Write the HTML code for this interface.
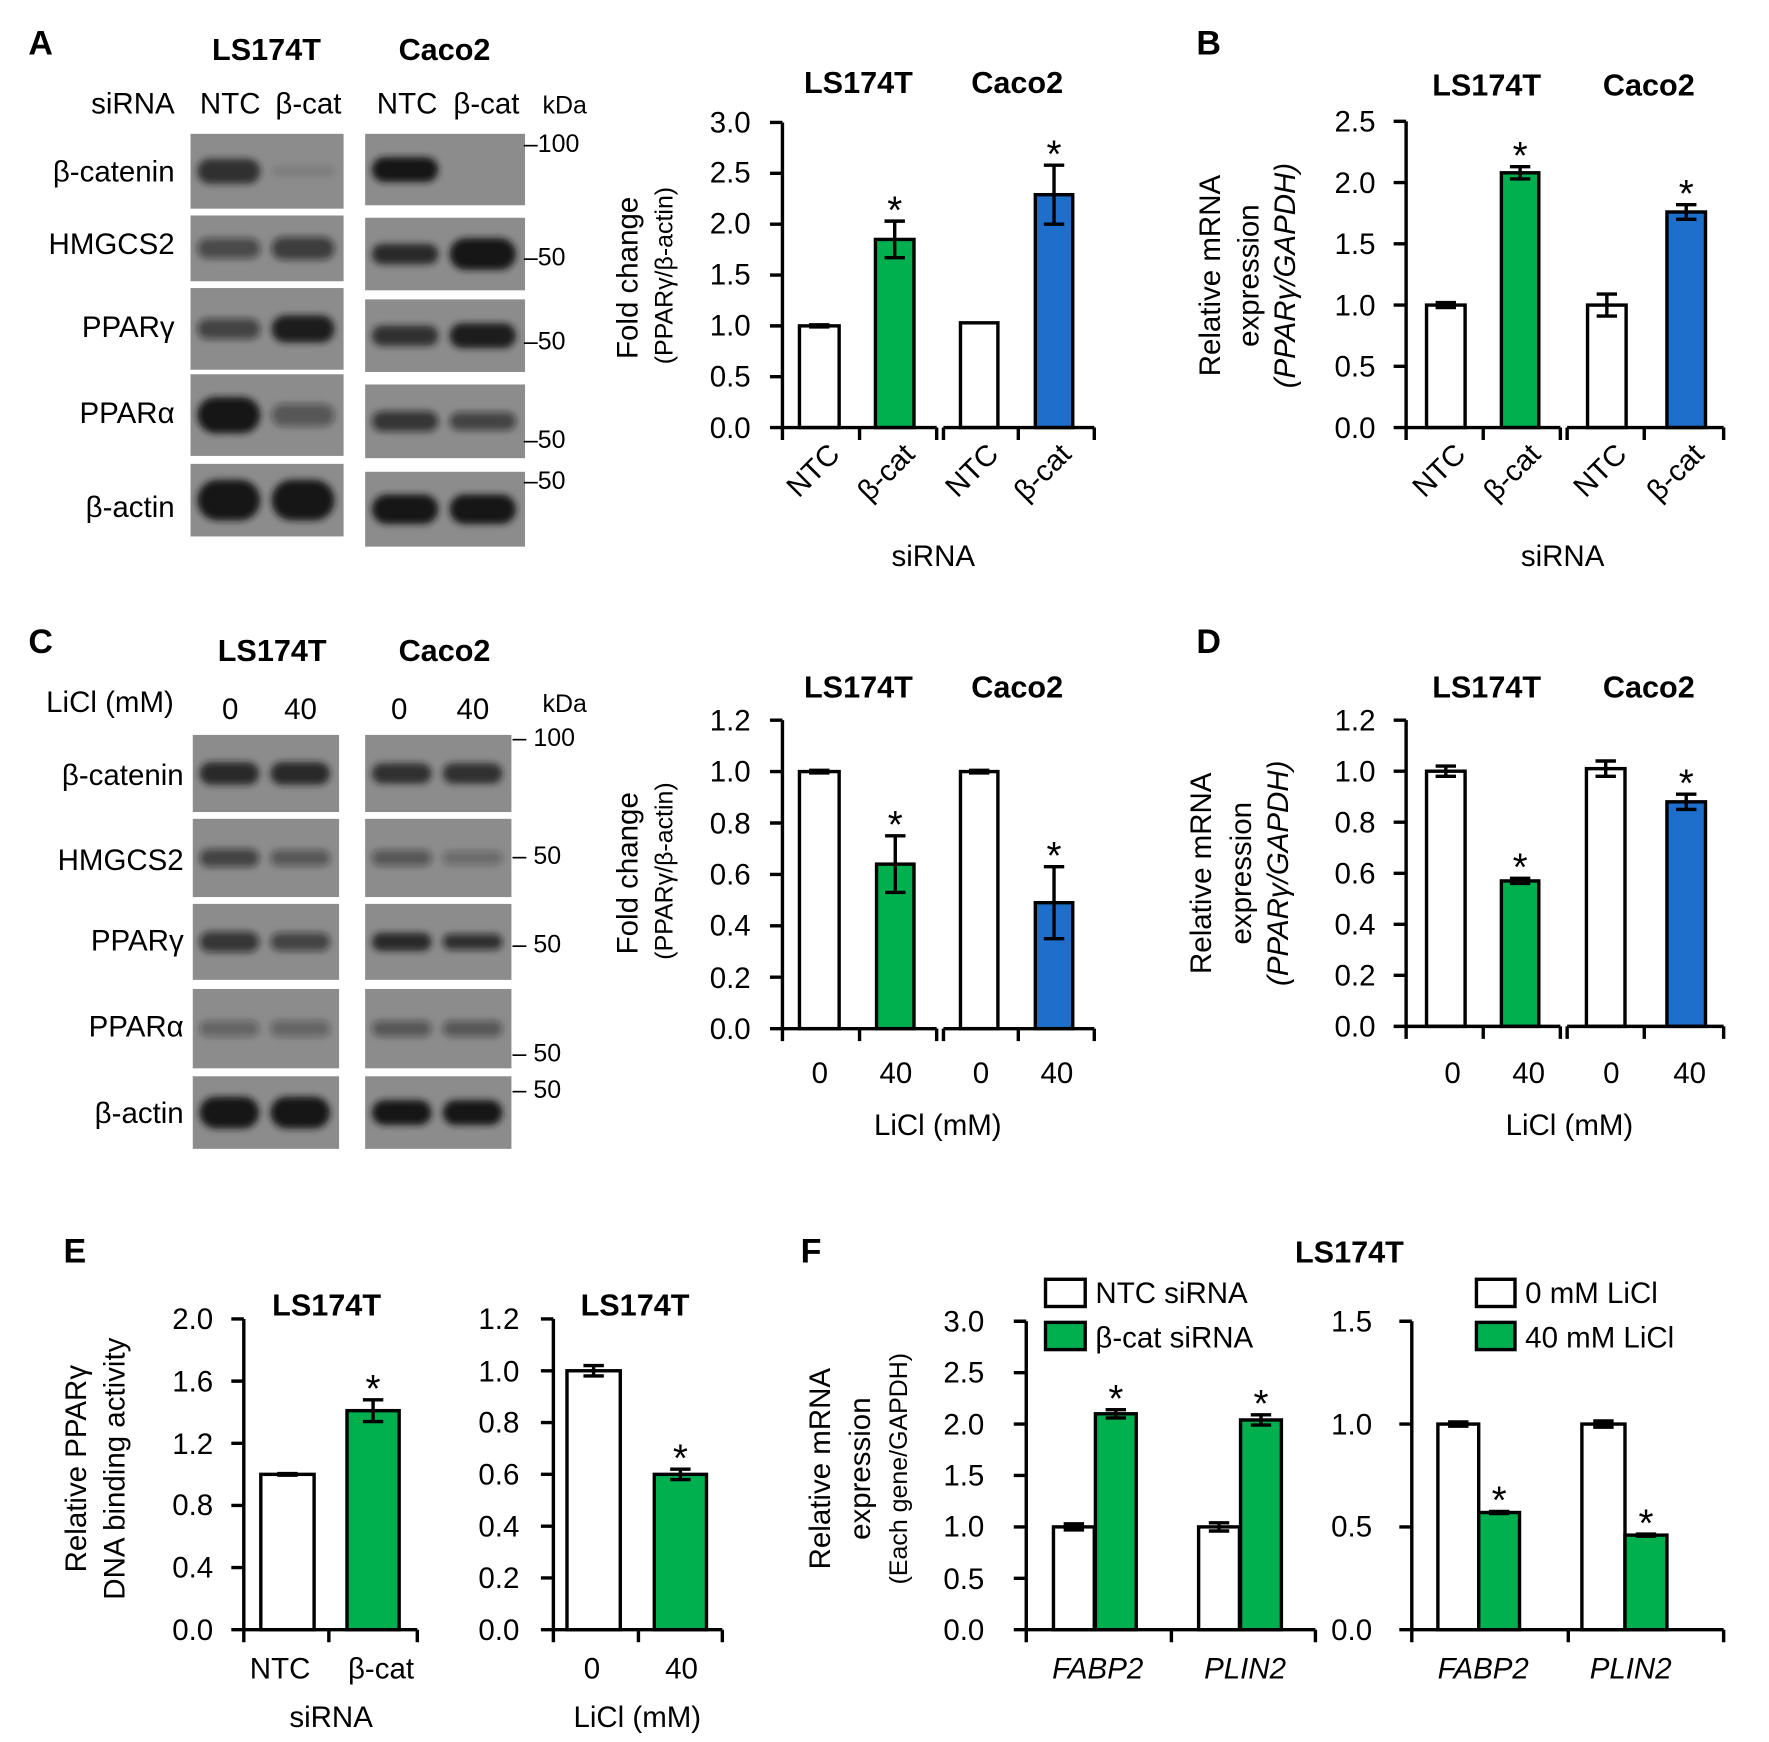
<!DOCTYPE html>
<html><head><meta charset="utf-8"><style>
html,body{margin:0;padding:0;background:#fff;width:1769px;height:1742px;overflow:hidden}
svg{display:block}
text{font-family:"Liberation Sans",Arial,sans-serif;fill:#000}
.t{font-size:26px}
.b{font-weight:bold;font-size:27px}
.L{font-weight:bold;font-size:30px}
.r{text-anchor:end}
.m{text-anchor:middle}
.i{font-style:italic}
</style></head><body>
<svg id="s" width="1769" height="1742" viewBox="0 0 1560 1536" preserveAspectRatio="none">
<defs><filter id="bl" x="-20%" y="-50%" width="140%" height="200%"><feGaussianBlur stdDeviation="3"/></filter></defs>
<g id="g"></g>
<!-- Panel A text -->
<text class="L" x="25" y="48">A</text>
<text class="b m" x="235" y="53">LS174T</text>
<text class="b m" x="392" y="53">Caco2</text>
<text class="t r" x="154" y="100">siRNA</text>
<text class="t m" x="203" y="100">NTC</text>
<text class="t m" x="272" y="100">β-cat</text>
<text class="t m" x="359" y="100">NTC</text>
<text class="t m" x="429" y="100">β-cat</text>
<text class="m" x="498" y="100" style="font-size:22px">kDa</text>
<text class="t r" x="154" y="160">β-catenin</text>
<text class="t r" x="154" y="224">HMGCS2</text>
<text class="t r" x="154" y="297">PPARγ</text>
<text class="t r" x="154" y="373">PPARα</text>
<text class="t r" x="154" y="456">β-actin</text>
<g style="font-size:22px"><text x="462" y="134">–100</text><text x="462" y="234">–50</text><text x="462" y="308">–50</text><text x="462" y="395">–50</text><text x="462" y="431">–50</text></g>
<!-- Chart A text -->
<text class="b m" x="757" y="82">LS174T</text><text class="b m" x="897" y="82">Caco2</text>
<g class="t r"><text x="662" y="386">0.0</text><text x="662" y="341">0.5</text><text x="662" y="296">1.0</text><text x="662" y="251">1.5</text><text x="662" y="206">2.0</text><text x="662" y="161">2.5</text><text x="662" y="117">3.0</text></g>
<text class="t m" transform="translate(562,245) rotate(-90)">Fold change</text>
<text class="m" style="font-size:22px" transform="translate(593,243) rotate(-90)">(PPARγ/β-actin)</text>
<g class="t r"><text transform="translate(742,402) rotate(-45)">NTC</text><text transform="translate(808,402) rotate(-45)">β-cat</text><text transform="translate(882,402) rotate(-45)">NTC</text><text transform="translate(946,402) rotate(-45)">β-cat</text></g>
<text class="t m" x="823" y="499">siRNA</text>
<!-- B -->
<text class="L" x="1055" y="48">B</text>
<text class="b m" x="1311" y="84">LS174T</text><text class="b m" x="1454" y="84">Caco2</text>
<g class="t r"><text x="1213" y="386">0.0</text><text x="1213" y="332">0.5</text><text x="1213" y="278">1.0</text><text x="1213" y="224">1.5</text><text x="1213" y="170">2.0</text><text x="1213" y="116">2.5</text></g>
<text class="t m" transform="translate(1076,243) rotate(-90)">Relative mRNA</text>
<text class="t m" transform="translate(1110,243) rotate(-90)">expression</text>
<text class="t m i" transform="translate(1142,243) rotate(-90)">(PPARγ/GAPDH)</text>
<g class="t r"><text transform="translate(1294,402) rotate(-45)">NTC</text><text transform="translate(1360,402) rotate(-45)">β-cat</text><text transform="translate(1436,402) rotate(-45)">NTC</text><text transform="translate(1504,402) rotate(-45)">β-cat</text></g>
<text class="t m" x="1378" y="499">siRNA</text>
<!-- C -->
<text class="L" x="25" y="576">C</text>
<text class="b m" x="240" y="583">LS174T</text>
<text class="b m" x="392" y="583">Caco2</text>
<text class="t m" x="97" y="628">LiCl (mM)</text>
<text class="t m" x="203" y="634">0</text><text class="t m" x="265" y="634">40</text>
<text class="t m" x="352" y="634">0</text><text class="t m" x="417" y="634">40</text>
<text class="m" x="498" y="628" style="font-size:22px">kDa</text>
<text class="t r" x="162" y="692">β-catenin</text>
<text class="t r" x="162" y="767">HMGCS2</text>
<text class="t r" x="162" y="838">PPARγ</text>
<text class="t r" x="162" y="914">PPARα</text>
<text class="t r" x="162" y="990">β-actin</text>
<g style="font-size:22px"><text x="452" y="658">– 100</text><text x="452" y="762">– 50</text><text x="452" y="840">– 50</text><text x="452" y="936">– 50</text><text x="452" y="968">– 50</text></g>
<text class="b m" x="757" y="615">LS174T</text><text class="b m" x="897" y="615">Caco2</text>
<g class="t r"><text x="662" y="916">0.0</text><text x="662" y="871">0.2</text><text x="662" y="825">0.4</text><text x="662" y="780">0.6</text><text x="662" y="735">0.8</text><text x="662" y="689">1.0</text><text x="662" y="644">1.2</text></g>
<text class="t m" transform="translate(562,770) rotate(-90)">Fold change</text>
<text class="m" style="font-size:22px" transform="translate(593,768) rotate(-90)">(PPARγ/β-actin)</text>
<g class="t m"><text x="723" y="955">0</text><text x="790" y="955">40</text><text x="865" y="955">0</text><text x="932" y="955">40</text></g>
<text class="t m" x="827" y="1001">LiCl (mM)</text>
<!-- D -->
<text class="L" x="1055" y="576">D</text>
<text class="b m" x="1311" y="615">LS174T</text><text class="b m" x="1454" y="615">Caco2</text>
<g class="t r"><text x="1213" y="914">0.0</text><text x="1213" y="869">0.2</text><text x="1213" y="824">0.4</text><text x="1213" y="779">0.6</text><text x="1213" y="734">0.8</text><text x="1213" y="689">1.0</text><text x="1213" y="644">1.2</text></g>
<text class="t m" transform="translate(1068,770) rotate(-90)">Relative mRNA</text>
<text class="t m" transform="translate(1103,770) rotate(-90)">expression</text>
<text class="t m i" transform="translate(1136,770) rotate(-90)">(PPARγ/GAPDH)</text>
<g class="t m"><text x="1281" y="955">0</text><text x="1348" y="955">40</text><text x="1421" y="955">0</text><text x="1490" y="955">40</text></g>
<text class="t m" x="1384" y="1001">LiCl (mM)</text>
<!-- E -->
<text class="L" x="56" y="1113">E</text>
<text class="b m" x="288" y="1160">LS174T</text>
<text class="b m" x="560" y="1160">LS174T</text>
<g class="t r"><text x="188" y="1446">0.0</text><text x="188" y="1391">0.4</text><text x="188" y="1336">0.8</text><text x="188" y="1282">1.2</text><text x="188" y="1227">1.6</text><text x="188" y="1172">2.0</text></g>
<g class="t r"><text x="458" y="1446">0.0</text><text x="458" y="1400">0.2</text><text x="458" y="1355">0.4</text><text x="458" y="1309">0.6</text><text x="458" y="1263">0.8</text><text x="458" y="1218">1.0</text><text x="458" y="1172">1.2</text></g>
<text class="t m" transform="translate(76,1295) rotate(-90)">Relative PPARγ</text>
<text class="t m" transform="translate(110,1295) rotate(-90)">DNA binding activity</text>
<text class="t m" x="247" y="1480">NTC</text><text class="t m" x="336" y="1480">β-cat</text>
<text class="t m" x="292" y="1523">siRNA</text>
<text class="t m" x="522" y="1480">0</text><text class="t m" x="601" y="1480">40</text>
<text class="t m" x="562" y="1523">LiCl (mM)</text>
<!-- F -->
<text class="L" x="706" y="1113">F</text>
<text class="b m" x="1190" y="1113">LS174T</text>
<g class="t r"><text x="868" y="1446">0.0</text><text x="868" y="1401">0.5</text><text x="868" y="1355">1.0</text><text x="868" y="1310">1.5</text><text x="868" y="1265">2.0</text><text x="868" y="1219">2.5</text><text x="868" y="1174">3.0</text></g>
<g class="t r"><text x="1210" y="1446">0.0</text><text x="1210" y="1355">0.5</text><text x="1210" y="1265">1.0</text><text x="1210" y="1174">1.5</text></g>
<text class="t m" transform="translate(732,1295) rotate(-90)">Relative mRNA</text>
<text class="t m" transform="translate(767,1295) rotate(-90)">expression</text>
<text class="m" style="font-size:22px" transform="translate(800,1295) rotate(-90)">(Each gene/GAPDH)</text>
<text class="t m i" x="968" y="1480">FABP2</text><text class="t m i" x="1098" y="1480">PLIN2</text>
<text class="t m i" x="1308" y="1480">FABP2</text><text class="t m i" x="1438" y="1480">PLIN2</text>
<text class="t" x="966" y="1149">NTC siRNA</text><text class="t" x="966" y="1188">β-cat siRNA</text>
<text class="t" x="1345" y="1149">0 mM LiCl</text><text class="t" x="1345" y="1188">40 mM LiCl</text>
</svg>
<script>
var g=document.getElementById('g'),NS='http://www.w3.org/2000/svg';
function el(t,a){var e=document.createElementNS(NS,t);for(var k in a)e.setAttribute(k,a[k]);g.appendChild(e);return e;}
var G='#00b04f',B='#1d6fcb';
function blot(x1,x2,y1,y2,bands){el('rect',{x:x1,y:y1,width:x2-x1,height:y2-y1,fill:'#8c8c8c'});
 bands.forEach(function(b){if(b[2]<=0)return;el('rect',{x:b[0],y:(y1+y2)/2-b[1]/2,width:b[3]||((x2-x1)/2-12),height:b[1],rx:b[1]/2,fill:'#151515','fill-opacity':b[2],filter:'url(#bl)'});});}
function blots(L,C,rows){rows.forEach(function(r){var l=r[0],c=r[1];
 blot(L[0],L[1],l[0],l[1],[[L[0]+6,l[2],l[3]],[L[0]+(L[1]-L[0])/2+4,l[4],l[5]]]);
 blot(C[0],C[1],c[0],c[1],[[C[0]+6,c[2],c[3]],[C[0]+(C[1]-C[0])/2+4,c[4],c[5]]]);});}
blots([168,303],[322,463],[
 [[118,184,22,0.8,10,0.1],[118,181,22,1,8,0]],
 [[190,248,18,0.55,20,0.65],[192,256,18,0.85,28,1]],
 [[254,326,18,0.6,24,0.95],[264,328,18,0.8,22,0.95]],
 [[330,402,32,1,20,0.45],[339,404,18,0.7,16,0.6]],
 [[409,473,36,1,36,1],[416,482,26,1,26,1]]]);
blots([170,299],[322,451],[
 [[648,716,20,0.85,20,0.85],[648,716,18,0.8,18,0.8]],
 [[722,791,16,0.6,14,0.45],[722,791,14,0.45,12,0.3]],
 [[797,864,18,0.7,16,0.6],[797,864,16,0.85,14,0.75]],
 [[872,942,14,0.35,14,0.35],[872,942,14,0.45,14,0.45]],
 [[949,1013,28,1,28,1],[949,1013,22,1,22,1]]]);
function chart(c){var sc=(c.yb-c.yt)/c.max;
 c.bars.forEach(function(b){var v=b[2],e=b[3],col=b[4]||'#fff';var y=c.yb-v*sc;el('rect',{x:b[0],y:y,width:b[1]-b[0],height:c.yb-y,fill:col,stroke:'#000','stroke-width':3});
  var cx=(b[0]+b[1])/2;if(e){var y1=c.yb-(v+e)*sc,y2=c.yb-(v-e)*sc;el('path',{d:'M'+cx+' '+y1+'V'+y2+'M'+(cx-9)+' '+y1+'H'+(cx+9)+'M'+(cx-9)+' '+y2+'H'+(cx+9),stroke:'#000','stroke-width':3,fill:'none'});}
  if(b[5]){var ys=c.yb-(v+(e||0))*sc-8;var t=el('text',{x:cx,y:ys+10,'text-anchor':'middle','font-size':'34px'});t.textContent='*';}});
 var d='M'+c.x+' '+c.yt+'V'+c.yb;for(var v=0;v<=c.max+1e-6;v+=c.st){var y=c.yb-v*sc;d+='M'+(c.x-11)+' '+y+'H'+c.x;}
 el('path',{d:d,stroke:'#000','stroke-width':3,fill:'none'});
 c.segs.forEach(function(s){var dd='M'+s[0]+' '+c.yb+'H'+s[s.length-1];s.forEach(function(x){dd+='M'+x+' '+c.yb+'V'+(c.yb+11);});el('path',{d:dd,stroke:'#000','stroke-width':3,fill:'none'});});}
chart({x:690,yt:108,yb:377,max:3,st:0.5,segs:[[690,758,826],[832,898,965]],bars:[[705,740,1,0.01],[772,806,1.85,0.18,G,1],[847,880,1.03],[913,946,2.29,0.29,B,1]]});
chart({x:1240,yt:107,yb:377,max:2.5,st:0.5,segs:[[1240,1308,1376],[1382,1450,1520]],bars:[[1258,1292,1,0.02],[1324,1357,2.08,0.05,G,1],[1400,1434,1,0.09],[1470,1504,1.76,0.06,B,1]]});
chart({x:690,yt:635,yb:907,max:1.2,st:0.2,segs:[[690,758,826],[832,898,965]],bars:[[705,740,1,0.005],[773,806,0.64,0.11,G,1],[847,880,1,0.005],[913,946,0.49,0.14,B,1]]});
chart({x:1240,yt:635,yb:905,max:1.2,st:0.2,segs:[[1240,1308,1376],[1382,1450,1520]],bars:[[1258,1292,1,0.02],[1324,1357,0.57,0.01,G,1],[1399,1433,1.01,0.03],[1470,1504,0.88,0.03,B,1]]});
chart({x:215,yt:1163,yb:1437,max:2,st:0.4,segs:[[215,290,368]],bars:[[230,277,1,0.005],[306,352,1.41,0.07,G,1]]});
chart({x:488,yt:1163,yb:1437,max:1.2,st:0.2,segs:[[488,563,637]],bars:[[500,547,1,0.02],[577,623,0.6,0.02,G,1]]});
chart({x:905,yt:1165,yb:1437,max:3,st:0.5,segs:[[905,1033,1160]],bars:[[929,965,1,0.03],[966,1002,2.1,0.04,G,1],[1057,1093,1,0.04],[1094,1130,2.04,0.05,G,1]]});
chart({x:1245,yt:1165,yb:1437,max:1.5,st:0.5,segs:[[1245,1383,1520]],bars:[[1268,1304,1,0.01],[1304,1340,0.57,0.005,G,1],[1395,1433,1,0.015],[1433,1470,0.46,0.005,G,1]]});
el('rect',{x:922,y:1128,width:35,height:24,fill:'#fff',stroke:'#000','stroke-width':3});
el('rect',{x:922,y:1166,width:35,height:24,fill:G,stroke:'#000','stroke-width':3});
el('rect',{x:1302,y:1128,width:34,height:24,fill:'#fff',stroke:'#000','stroke-width':3});
el('rect',{x:1302,y:1166,width:34,height:24,fill:G,stroke:'#000','stroke-width':3});
</script>
</body></html>
